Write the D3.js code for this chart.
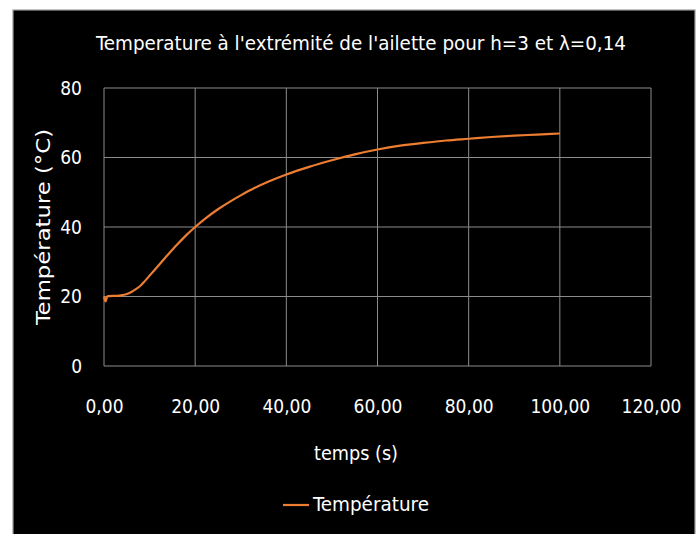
<!DOCTYPE html>
<html><head><meta charset="utf-8">
<script src="https://cdn.jsdelivr.net/npm/d3@7"></script>
<style>
html,body{margin:0;padding:0;background:#fff;}
text{font-family:"Comic Sans MS","DejaVu Sans Condensed","Liberation Sans Narrow",sans-serif;fill:#fff;}
</style></head>
<body>
<svg id="c" width="696" height="534"></svg>
<script>
const title = "Temperature à l'extrémité de l'ailette pour h=3 et λ=0,14";
const xLabel = "temps (s)";
const yLabel = "Température (°C)";
const seriesName = "Température";
const xTicks = [0,20,40,60,80,100,120];
const yTicks = [0,20,40,60,80];
const times = [0,0.2,0.35,0.5,0.7,1,2,3,4,5,6,7,8,9,10,12,14,16,18,20,22,25,28,30,33,36,40,45,50,55,60,65,70,75,80,85,90,95,100];
const temps = [20.0,19.0,18.6,19.2,20.0,20.1,20.2,20.2,20.4,20.7,21.3,22.1,23.1,24.5,26.0,29.0,32.0,34.9,37.6,40.0,42.2,45.1,47.6,49.1,51.2,53.0,55.1,57.3,59.2,60.9,62.3,63.4,64.2,64.9,65.4,65.9,66.3,66.6,66.9];

const svg = d3.select("#c");
svg.append("rect").attr("x",13).attr("y",10).attr("width",682).attr("height",530)
  .attr("fill","#000").attr("stroke","#9a9a9a").attr("stroke-width",1.2);

const x = d3.scaleLinear().domain([0,120]).range([104,651]);
const y = d3.scaleLinear().domain([0,80]).range([366,88]);

const g = svg.append("g");
g.selectAll(".vg").data(xTicks).enter().append("line")
  .attr("x1",d=>x(d)).attr("x2",d=>x(d)).attr("y1",y(0)).attr("y2",y(80))
  .attr("stroke","#8c8c8c").attr("stroke-width",1);
g.selectAll(".hg").data(yTicks).enter().append("line")
  .attr("x1",x(0)).attr("x2",x(120)).attr("y1",d=>y(d)).attr("y2",d=>y(d))
  .attr("stroke","#8c8c8c").attr("stroke-width",1);

const fmt = d => d.toFixed(2).replace(".", ",");
const xa = svg.append("g").attr("transform",`translate(0,${y(0)})`)
  .call(d3.axisBottom(x).tickValues(xTicks).tickFormat(fmt).tickSize(0).tickPadding(34));
xa.select(".domain").remove();
xa.selectAll("text").attr("font-size",19).attr("fill","#fff")
  .style("font-family",'"Comic Sans MS","DejaVu Sans Condensed",sans-serif');
const ya = svg.append("g").attr("transform",`translate(${x(0)},0)`)
  .call(d3.axisLeft(y).tickValues(yTicks).tickFormat(d3.format("d")).tickSize(0).tickPadding(22));
ya.select(".domain").remove();
ya.selectAll("text").attr("font-size",19).attr("fill","#fff")
  .style("font-family",'"Comic Sans MS","DejaVu Sans Condensed",sans-serif');

const pts = times.map((t,i)=>[t,temps[i]]);
svg.append("path").datum(pts)
  .attr("d", d3.line().x(d=>x(d[0])).y(d=>y(d[1])).curve(d3.curveMonotoneX))
  .attr("fill","none").attr("stroke","#ed7d31").attr("stroke-width",2.2);

svg.append("text").attr("x",361).attr("y",50).attr("text-anchor","middle")
  .attr("font-size",19).attr("textLength",530).attr("lengthAdjust","spacingAndGlyphs").text(title);
svg.append("text").attr("x",356).attr("y",460).attr("text-anchor","middle")
  .attr("font-size",19).attr("textLength",84).attr("lengthAdjust","spacingAndGlyphs").text(xLabel);
svg.append("text").attr("transform","translate(50,227) rotate(-90)").attr("text-anchor","middle")
  .attr("font-size",19).attr("textLength",196).attr("lengthAdjust","spacingAndGlyphs").text(yLabel);
svg.append("line").attr("x1",283).attr("x2",309).attr("y1",505).attr("y2",505)
  .attr("stroke","#ed7d31").attr("stroke-width",2.2);
svg.append("text").attr("x",313).attr("y",511).attr("font-size",19)
  .attr("textLength",116).attr("lengthAdjust","spacingAndGlyphs").text(seriesName);
</script>
</body></html>
